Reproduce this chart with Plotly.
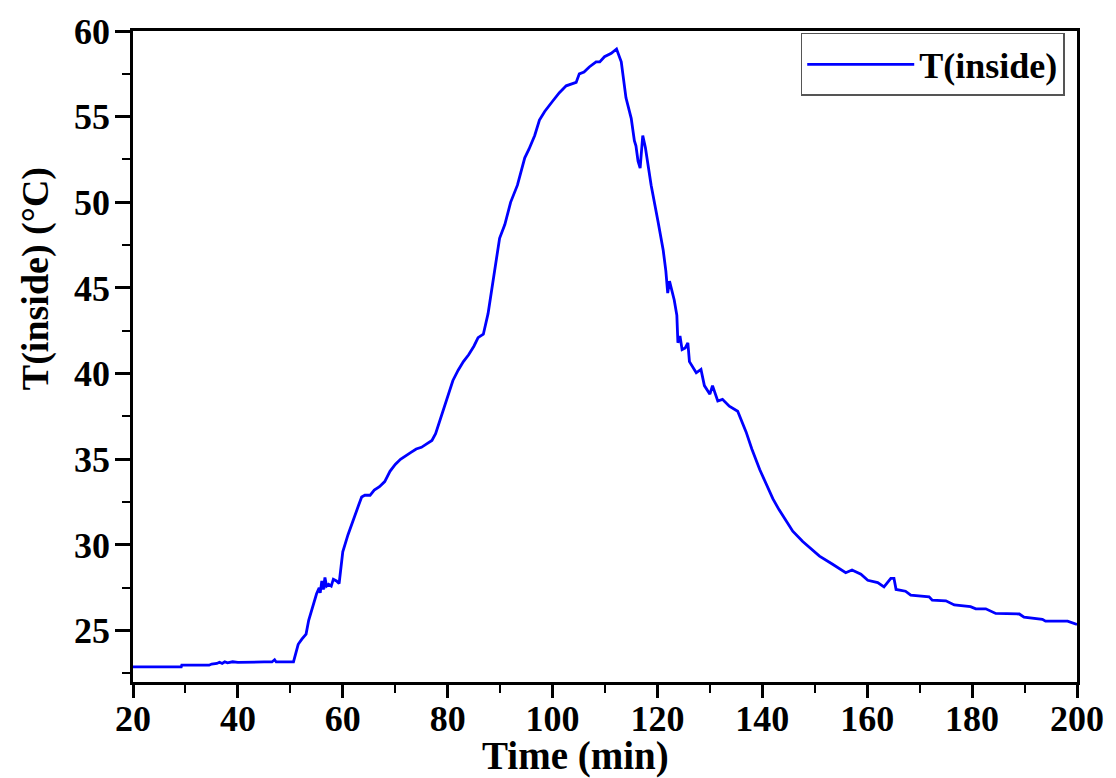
import plotly.graph_objects as go

# Inside temperature record (time in minutes, temperature in °C)
time_min = [
    20.0, 29.2, 29.3, 34.5, 35.0, 36.0, 36.5, 37.0, 37.5, 38.0, 39.0, 40.0,
    45.0, 46.5, 47.0, 47.3, 50.6, 51.0, 51.5, 52.2, 53.0, 53.5, 54.2, 55.0,
    55.5, 55.7, 56.0, 56.3, 56.6, 56.9, 57.3, 57.8, 58.2, 58.8, 59.3, 59.6,
    60.0, 61.0, 62.0, 63.0, 63.6, 64.2, 65.2, 66.0, 67.0, 68.0, 69.0, 70.0,
    71.0, 72.1, 73.0, 74.0, 75.0, 76.0, 77.0, 77.7, 78.5, 79.7, 81.0, 82.0,
    83.0, 84.0, 85.0, 85.8, 86.8, 87.7, 88.6, 89.3, 89.9, 90.9, 92.0, 93.3,
    94.7, 95.5, 96.6, 97.5, 98.5, 100.0, 101.3, 102.6, 104.5, 105.1, 106.0,
    107.0, 108.3, 109.0, 109.9, 111.2, 112.2, 113.1, 114.0, 115.0, 115.6,
    115.9, 116.3, 116.7, 117.2, 117.7, 118.8, 120.1, 121.1, 121.6, 121.96,
    122.3, 123.2, 123.7, 123.9, 124.3, 124.7, 125.3, 125.8, 126.1, 127.4,
    128.3, 128.95, 130.0, 130.5, 131.5, 132.4, 133.7, 135.3, 136.9, 138.0,
    139.5, 141.0, 142.0, 143.2, 145.8, 147.7, 150.9, 153.4, 155.9, 157.1,
    158.8, 160.1, 162.0, 163.2, 164.5, 165.1, 165.5, 167.3, 168.3, 171.8,
    172.4, 175.0, 176.6, 179.7, 180.7, 182.6, 184.5, 189.0, 189.9, 193.4,
    194.0, 198.2, 199.8, 200.0,
]
t_inside = [
    22.88, 22.88, 22.98, 22.98, 23.05, 23.08, 23.15, 23.08, 23.18, 23.12, 23.18, 23.15,
    23.17, 23.17, 23.3, 23.17, 23.17, 23.7, 24.2, 24.5, 24.8, 25.6, 26.4, 27.15,
    27.5, 27.2, 27.9, 27.4, 28.1, 27.6, 27.7, 27.6, 28.0, 27.9, 27.75, 28.5,
    29.6, 30.6, 31.5, 32.3, 32.8, 32.9, 32.9, 33.2, 33.4, 33.7, 34.3, 34.7,
    35.0, 35.2, 35.4, 35.6, 35.7, 35.9, 36.1, 36.5, 37.25, 38.5, 39.6, 40.2,
    40.7, 41.1, 41.6, 42.1, 42.3, 43.5, 45.4, 46.8, 47.9, 48.7, 50.0, 51.0,
    52.6, 53.1, 53.9, 54.8, 55.3, 55.9, 56.4, 56.8, 57.0, 57.5, 57.6,
    57.9, 58.2, 58.2, 58.5, 58.7, 58.95, 58.2, 56.1, 54.9, 53.6,
    53.3, 52.4, 52.0, 53.9, 53.2, 51.0, 48.9, 47.2, 46.0, 44.7,
    45.4, 44.3, 43.4, 41.8, 42.2, 41.4, 41.5, 41.8, 40.7, 40.05,
    40.25, 39.3, 38.8, 39.3, 38.4, 38.5, 38.1, 37.8, 36.6, 35.6,
    34.4, 33.4, 32.7, 32.05, 30.8, 30.2, 29.35, 28.87, 28.38, 28.54,
    28.29, 27.94, 27.8, 27.55, 28.05, 28.05, 27.4, 27.3, 27.07, 26.97,
    26.78, 26.74, 26.5, 26.4, 26.27, 26.27, 26.0, 25.97, 25.78, 25.66,
    25.55, 25.55, 25.36, 25.36,
]

x_ticks = [20, 40, 60, 80, 100, 120, 140, 160, 180, 200]
y_ticks = [25, 30, 35, 40, 45, 50, 55, 60]

FONT = "Liberation Serif"

fig = go.Figure()
fig.add_trace(go.Scatter(
    x=time_min, y=t_inside, mode="lines", name="T(inside)",
    line=dict(color="#0000FF", width=2.8),
))

axis_common = dict(
    showline=True, linecolor="black", linewidth=2.5, mirror=True,
    ticks="outside", tickcolor="black", tickwidth=2.5,
    showgrid=False, zeroline=False,
    tickfont=dict(family=FONT, size=36, color="black", weight="bold"),
)

fig.update_xaxes(
    range=[20, 200], tickvals=x_ticks, ticklen=13, ticklabelstandoff=-10,
    minor=dict(ticks="outside", ticklen=8, tickwidth=2, tickcolor="black",
               tick0=20, dtick=10),
    **axis_common,
)
fig.update_yaxes(
    range=[22, 60], tickvals=y_ticks, ticklen=15, ticklabelstandoff=-2,
    minor=dict(ticks="outside", ticklen=8, tickwidth=2, tickcolor="black",
               tick0=0, dtick=2.5),
    **axis_common,
)

fig.add_annotation(
    text="<b>Time (min)</b>", xref="paper", yref="paper",
    x=0.469, y=-0.113, xanchor="center", yanchor="middle", showarrow=False,
    font=dict(family=FONT, size=39, color="black"),
)
fig.add_annotation(
    text="<b>T(inside) (°C)</b>", xref="paper", yref="paper", textangle=-90,
    x=-0.1037, y=0.619, xanchor="center", yanchor="middle", showarrow=False,
    font=dict(family=FONT, size=38, color="black"),
)

fig.update_layout(
    width=1116, height=778,
    margin=dict(l=133, r=38, t=25, b=96),
    paper_bgcolor="white", plot_bgcolor="white",
    showlegend=True,
    legend=dict(
        x=0.987, y=0.997, xanchor="right", yanchor="top",
        bgcolor="white", bordercolor="#555555", borderwidth=1.5,
        itemwidth=107,
        font=dict(family=FONT, size=36, color="black", weight="bold"),
    ),
)

fig.write_html("out.html")
